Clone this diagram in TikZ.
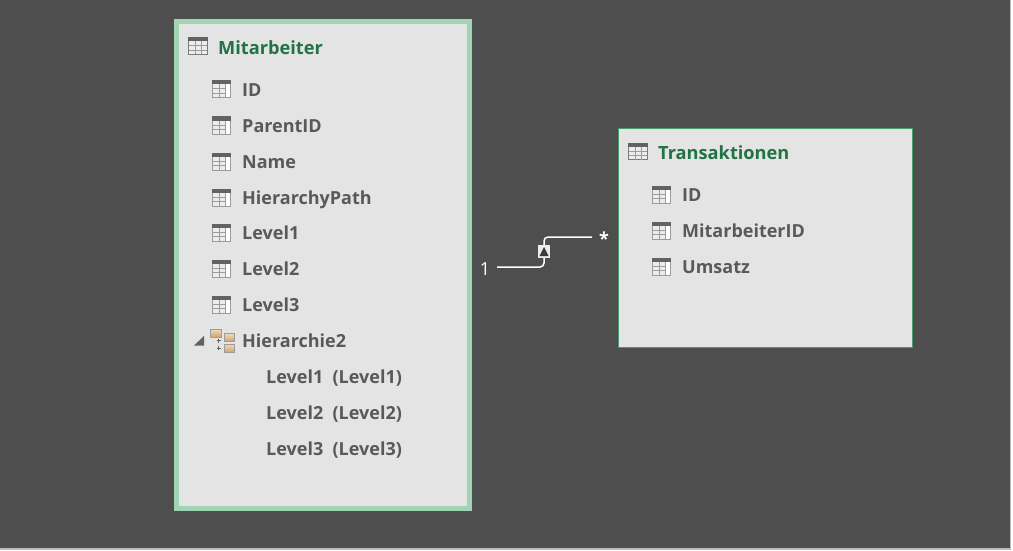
\documentclass[tikz,border=0pt]{standalone}
\usepackage{fontspec}
\setmainfont{Open Sans}
\usetikzlibrary{calc}
\definecolor{bgdark}{HTML}{4E4E4E}
\definecolor{panel}{HTML}{E4E4E4}
\definecolor{selborder}{HTML}{A0D4B4}
\definecolor{thinborder}{HTML}{4A9A72}
\definecolor{titlegreen}{HTML}{217346}
\definecolor{fieldtext}{HTML}{595959}
\definecolor{icongrey}{HTML}{626262}
\definecolor{edgegrey}{HTML}{9C9C9C}
\definecolor{screenedge}{HTML}{BDBDBD}
\definecolor{folderlight}{HTML}{EADCC4}
\definecolor{folderdark}{HTML}{D4A468}
\tikzset{
  x=1pt,y=-1pt,
  field/.style={inner sep=0pt,anchor=west,text=fieldtext,font=\fontsize{18}{20}\selectfont\bfseries},
  tabletitle/.style={inner sep=0pt,anchor=west,text=titlegreen,font=\fontsize{18.2}{20}\selectfont\bfseries},
  cardinal/.style={inner sep=0pt,text=white,font=\fontsize{18}{20}\selectfont},
  relline/.style={draw=white,line width=1.5pt,rounded corners=4pt},
  folderbox/.style={draw=edgegrey,line width=.5pt,top color=folderlight,bottom color=folderdark},
  pics/fieldicon/.style={code={
    \fill[white] (0,0) rectangle (19,18);
    \fill[panel!70!white] (1,4) rectangle (13.5,17);
    \draw[edgegrey,line width=1pt] (.5,.5) rectangle (18.5,17.5);
    \fill[icongrey] (0,0) rectangle (19,4);
    \draw[edgegrey,line width=1pt] (1,8.5) -- (13.5,8.5) (1,13) -- (13.5,13) (7,4) -- (7,17) (13.5,4) -- (13.5,17);
  }},
  pics/tableicon/.style={code={
    \fill[panel!70!white] (0,0) rectangle (19.5,17.5);
    \draw[icongrey!85!white,line width=1pt] (.5,.5) rectangle (19,17);
    \fill[icongrey] (0,0) rectangle (19.5,4);
    \draw[edgegrey,line width=1pt] (1,8.5) -- (18.5,8.5) (1,13) -- (18.5,13) (7,4) -- (7,17) (13,4) -- (13,17);
  }},
  pics/hiericon/.style={code={
    \shade[folderbox] (0,0) rectangle (11,8);
    \shade[folderbox] (14,4.5) rectangle (24,12);
    \shade[folderbox] (14,15) rectangle (24,23);
    \draw[icongrey,line width=1pt] (6.5,11.7) -- (11,11.7) (8.75,9.5) -- (8.75,14) (6.5,19) -- (11,19) (8.75,16.8) -- (8.75,21.2);
  }}
}
\begin{document}
\begin{tikzpicture}
\useasboundingbox (0,0) rectangle (1013,551);
\fill[white] (0,0) rectangle (1013,551);
\fill[screenedge] (0,0) rectangle (1011,549.5);
\fill[bgdark] (0,0) rectangle (1009.5,547.5);
% Mitarbeiter
\node[draw=selborder,fill=panel,line width=5pt,minimum width=293pt,minimum height=487pt,inner sep=0pt,anchor=north west] (mit) at (174,19) {};
\pic at (188,37.5) {tableicon};
\node[tabletitle] (mtitle) at (218,48) {Mitarbeiter};
\foreach \y/\t/\n in {90/ID/a,126/ParentID/b,162/Name/c,198/HierarchyPath/d,233/Level1/e,269/Level2/f,305/Level3/g}{
  \pic at (212,\y-9.5) {fieldicon};
  \node[field,anchor=base west] (f\n) at (242,\y+6.5) {\t};
}
\fill[icongrey] (194,345.5) -- (204,345.5) -- (204,336) -- cycle;
\pic at (210,329) {hiericon};
\node[field,anchor=base west] (fh) at (242,347.5) {Hierarchie2};
\node[field,anchor=base west] (l1) at (266,383.5) {Level1\ \ (Level1)};
\node[field,anchor=base west] (l2) at (266,419.5) {Level2\ \ (Level2)};
\node[field,anchor=base west] (l3) at (266,455.5) {Level3\ \ (Level3)};
% Transaktionen
\node[draw=thinborder,fill=panel,line width=1pt,minimum width=294pt,minimum height=219pt,inner sep=0pt,anchor=north west] (tr) at (618,128) {};
\pic at (628,142.5) {tableicon};
\node[tabletitle] (ttitle) at (658,153) {Transaktionen};
\foreach \y/\t/\n in {195/ID/a,231/MitarbeiterID/b,267/Umsatz/c}{
  \pic at (652,\y-9.5) {fieldicon};
  \node[field,anchor=base west] (t\n) at (682,\y+6.5) {\t};
}
% relation
\node[cardinal] (one) at (485,269) {1};
\node[cardinal,font=\fontsize{18}{20}\selectfont\bfseries] (many) at (604,239) {*};
\coordinate (start) at (497,267);
\coordinate (end) at (592,237);
\node[fill=white!92!black,minimum width=12pt,minimum height=13pt,inner sep=0pt] (dir) at (544,251.5) {};
\draw[relline] (start) -| (dir.south);
\draw[relline] (dir.north) |- (end);
\fill[bgdark!75!black] (539.5,256) -- (548.5,256) -- (544,247) -- cycle;
\end{tikzpicture}
\end{document}
